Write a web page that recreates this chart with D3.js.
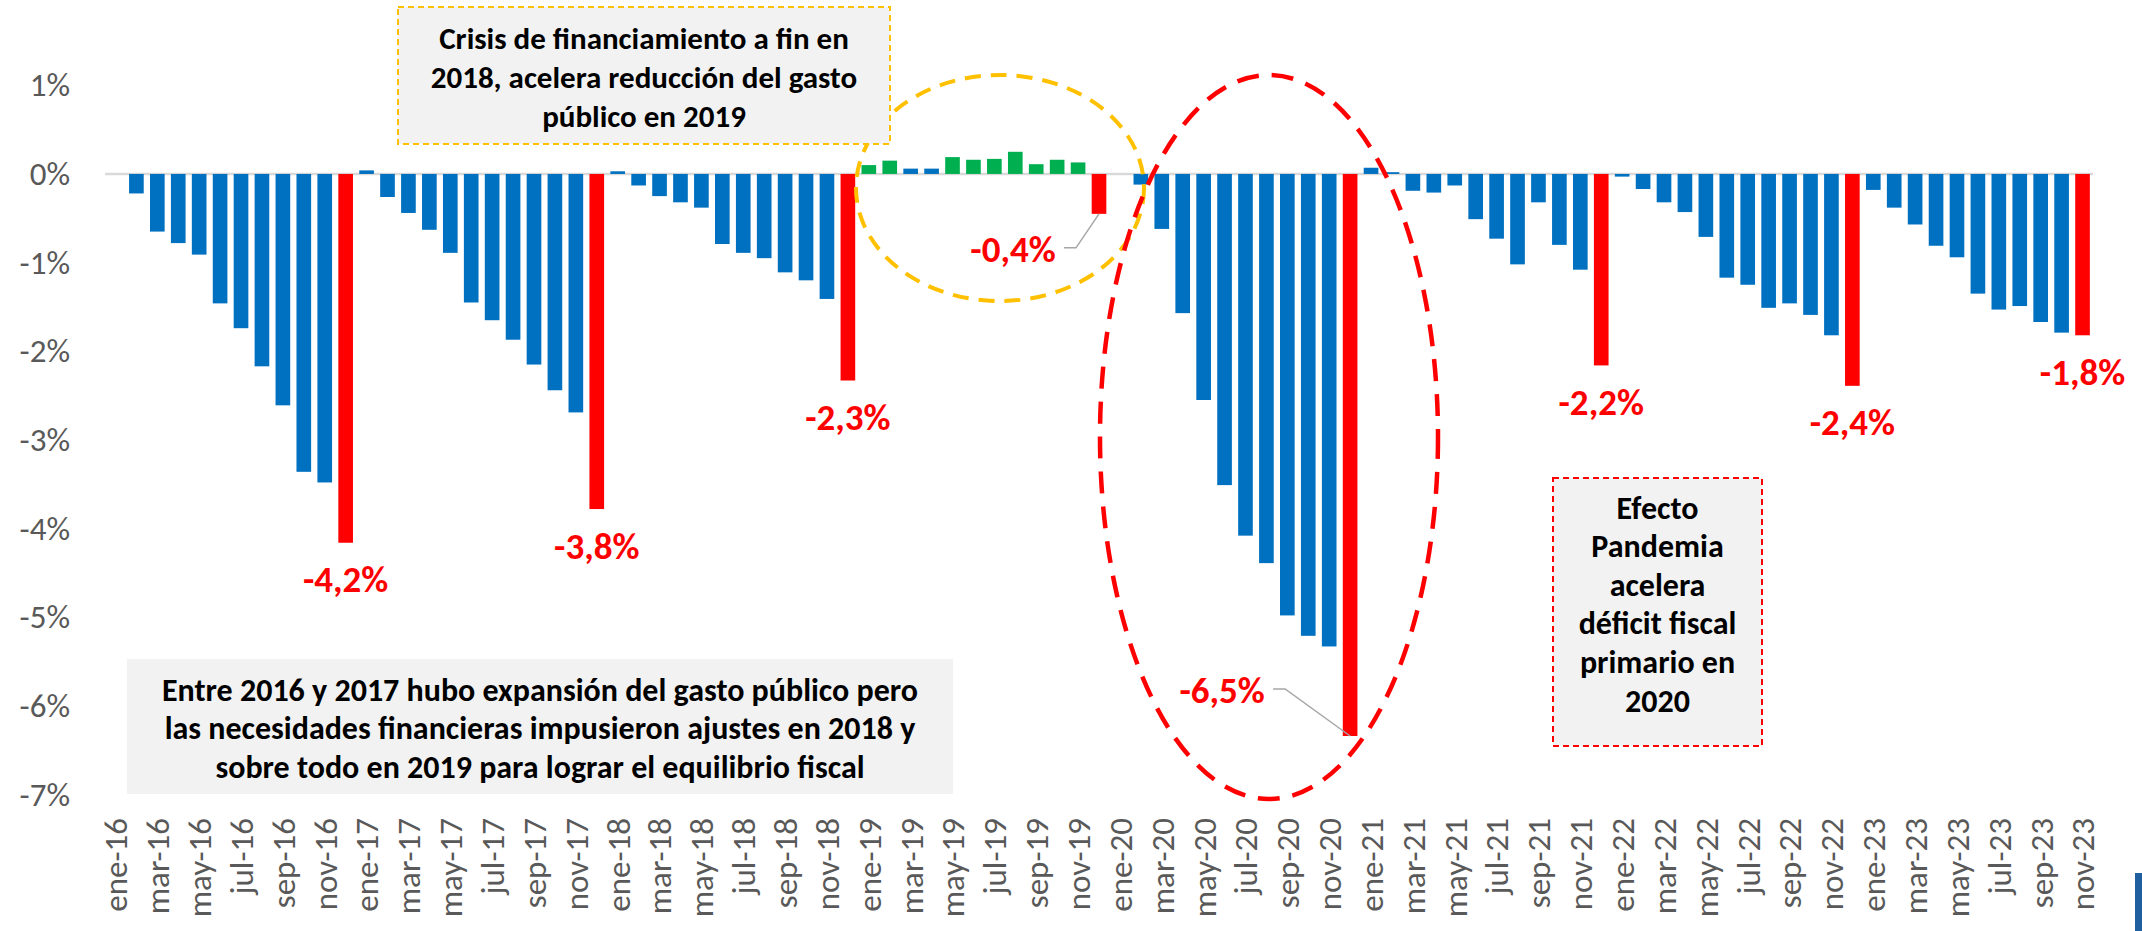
<!DOCTYPE html>
<html>
<head>
<meta charset="utf-8">
<script src="https://cdn.jsdelivr.net/npm/d3@7"></script>
<style>
  body { margin: 0; background: #fff; }
  svg { display: block; }
  text { font-family: Carlito, Lato, "Open Sans", sans-serif; }
</style>
</head>
<body>
<div id="chart"></div>
<script>
// resultado primario acumulado del año, % del PIB
const meses = ["ene", "feb", "mar", "abr", "may", "jun", "jul", "ago", "sep", "oct", "nov", "dic"];
const anios = ["16", "17", "18", "19", "20", "21", "22", "23"];

const valores2016 = [0, -0.22, -0.65, -0.78, -0.91, -1.46, -1.74, -2.17, -2.61, -3.36, -3.48, -4.16];
const valores2017 = [0.04, -0.26, -0.44, -0.63, -0.89, -1.45, -1.65, -1.87, -2.15, -2.44, -2.69, -3.78];
const valores2018 = [0.03, -0.13, -0.25, -0.32, -0.38, -0.79, -0.89, -0.95, -1.11, -1.20, -1.41, -2.33];
const valores2019 = [0.10, 0.15, 0.06, 0.06, 0.19, 0.16, 0.17, 0.25, 0.11, 0.16, 0.13, -0.45];
const valores2020 = [0, -0.12, -0.62, -1.57, -2.55, -3.51, -4.08, -4.39, -4.98, -5.21, -5.33, -6.34];
const valores2021 = [0.07, 0.02, -0.19, -0.21, -0.13, -0.51, -0.73, -1.02, -0.32, -0.80, -1.08, -2.16];
const valores2022 = [-0.03, -0.17, -0.32, -0.43, -0.71, -1.17, -1.25, -1.51, -1.46, -1.59, -1.82, -2.39];
const valores2023 = [-0.18, -0.38, -0.57, -0.81, -0.94, -1.35, -1.53, -1.49, -1.67, -1.79, -1.82];

// barras en rojo (cierre de año) y en verde (superávit 2019)
const cierres = ["dic-16", "dic-17", "dic-18", "dic-19", "dic-20", "dic-21", "dic-22", "nov-23"];
const superavit = ["ene-19", "feb-19", "may-19", "jun-19", "jul-19", "ago-19", "sep-19", "oct-19", "nov-19"];

const etiquetas = [
    { mes: "dic-16", texto: "-4,2%" },
    { mes: "dic-17", texto: "-3,8%" },
    { mes: "dic-18", texto: "-2,3%" },
    { mes: "dic-19", texto: "-0,4%" },
    { mes: "dic-20", texto: "-6,5%" },
    { mes: "dic-21", texto: "-2,2%" },
    { mes: "dic-22", texto: "-2,4%" },
    { mes: "nov-23", texto: "-1,8%" }
];

const yTicks = [1, 0, -1, -2, -3, -4, -5, -6, -7];

const notaCrisis = ["Crisis de financiamiento a fin en", "2018, acelera reducción del gasto", "público en 2019"];
const notaExpansion = [
    "Entre 2016 y 2017 hubo expansión del gasto público pero",
    "las necesidades financieras impusieron ajustes en 2018 y",
    "sobre todo en 2019 para lograr el equilibrio fiscal"
];
const notaPandemia = ["Efecto", "Pandemia", "acelera", "déficit fiscal", "primario en", "2020"];

const valores = [].concat(valores2016, valores2017, valores2018, valores2019,
    valores2020, valores2021, valores2022, valores2023);
const categorias = [];
anios.forEach(a => meses.forEach(m => categorias.push(m + "-" + a)));
const datos = valores.map((v, i) => ({ mes: categorias[i], valor: v }));
const dominio = datos.map(d => d.mes);

const width = 2142;
const height = 931;

const svg = d3.select("#chart")
    .append("svg")
    .attr("width", width)
    .attr("height", height);

const x = d3.scaleBand()
    .domain(dominio)
    .range([105, 2093])
    .paddingInner(0.3)
    .paddingOuter(0.15);

const y = d3.scaleLinear()
    .domain([1, -7])
    .range([85.3, 794.5]);

const azul = "#0070C0", rojo = "#FF0000", verde = "#00B050";

function colorBarra(d) {
    if (cierres.includes(d.mes)) return rojo;
    if (superavit.includes(d.mes)) return verde;
    return azul;
}

// eje y (solo etiquetas)
const ejeY = svg.append("g")
    .attr("transform", "translate(76,0)")
    .call(d3.axisLeft(y).tickValues(yTicks).tickSize(0).tickPadding(6).tickFormat(d => d + "%"));
ejeY.select(".domain").remove();
ejeY.selectAll("text")
    .attr("fill", "#595959")
    .style("font-size", "33px");

// eje x
const ejeX = svg.append("g")
    .attr("transform", "translate(0,818)")
    .call(d3.axisBottom(x)
        .tickValues(dominio.filter((d, i) => i % 2 === 0))
        .tickSize(0));
ejeX.select(".domain").remove();
ejeX.selectAll("text")
    .attr("fill", "#595959")
    .style("font-size", "33px")
    .attr("transform", "rotate(-90)")
    .attr("x", 0)
    .attr("y", 0)
    .attr("dy", "0.36em")
    .attr("text-anchor", "end");

// línea del cero
svg.append("line")
    .attr("x1", x.range()[0])
    .attr("x2", x.range()[1])
    .attr("y1", y(0))
    .attr("y2", y(0))
    .attr("stroke", "#D9D9D9")
    .attr("stroke-width", 2.5);

// barras
svg.selectAll("rect.barra")
    .data(datos)
    .enter()
    .append("rect")
    .attr("class", "barra")
    .attr("x", d => x(d.mes))
    .attr("width", x.bandwidth())
    .attr("y", d => y(Math.max(0, d.valor)))
    .attr("height", d => Math.abs(y(d.valor) - y(0)))
    .attr("fill", colorBarra);

// etiquetas de cierre
const conLinea = {
    "dic-19": { dx: -86, dy: 36 },
    "dic-20": { dx: -128, dy: -45 }
};

etiquetas.forEach(e => {
    const d = datos.find(r => r.mes === e.mes);
    const cx = x(e.mes) + x.bandwidth() / 2;
    const cy = y(d.valor);
    const off = conLinea[e.mes] || { dx: 0, dy: 37 };
    svg.append("text")
        .attr("x", cx + off.dx)
        .attr("y", cy + off.dy)
        .attr("text-anchor", "middle")
        .attr("dominant-baseline", "central")
        .attr("fill", rojo)
        .style("font-size", "37px")
        .style("font-weight", "bold")
        .text(e.texto);
    if (conLinea[e.mes]) {
        const lx = cx + off.dx + 51;
        svg.append("path")
            .attr("d", `M${lx},${cy + off.dy - 2}H${lx + 12}L${cx},${cy}`)
            .attr("fill", "none")
            .attr("stroke", "#A6A6A6")
            .attr("stroke-width", 1.5);
    }
});

// elipses punteadas
svg.append("ellipse")
    .attr("cx", 1000).attr("cy", 188).attr("rx", 144).attr("ry", 113)
    .attr("fill", "none")
    .attr("stroke", "#FFC000")
    .attr("stroke-width", 4)
    .attr("stroke-dasharray", "16,10");

svg.append("ellipse")
    .attr("cx", 1269).attr("cy", 437).attr("rx", 169).attr("ry", 362)
    .attr("fill", "none")
    .attr("stroke", rojo)
    .attr("stroke-width", 4.5)
    .attr("stroke-dasharray", "22,13");

// cuadros de texto
function cuadro(x0, y0, w, h, lineas, y1, paso, borde, tam) {
    const g = svg.append("g");
    g.append("rect")
        .attr("x", x0).attr("y", y0).attr("width", w).attr("height", h)
        .attr("fill", "#F2F2F2")
        .attr("stroke", borde || "none")
        .attr("stroke-width", borde ? 2 : 0)
        .attr("stroke-dasharray", "6,4");
    g.selectAll("text")
        .data(lineas)
        .enter()
        .append("text")
        .attr("x", x0 + w / 2)
        .attr("y", (d, i) => y1 + i * paso)
        .attr("text-anchor", "middle")
        .attr("dominant-baseline", "central")
        .attr("fill", "#000")
        .style("font-size", tam + "px")
        .style("font-weight", "bold")
        .text(d => d);
}

cuadro(398, 7, 492, 137, notaCrisis, 38, 39, "#FFC000", 31);
cuadro(127, 659, 826, 135, notaExpansion, 690, 38.5, null, 32);
cuadro(1553, 478, 209, 268, notaPandemia, 508, 38.6, rojo, 32);

// logo (recorte en la esquina)
svg.append("rect")
    .attr("x", 2135).attr("y", 873).attr("width", 7).attr("height", 58)
    .attr("fill", "#1F5F9F");
</script>
</body>
</html>
